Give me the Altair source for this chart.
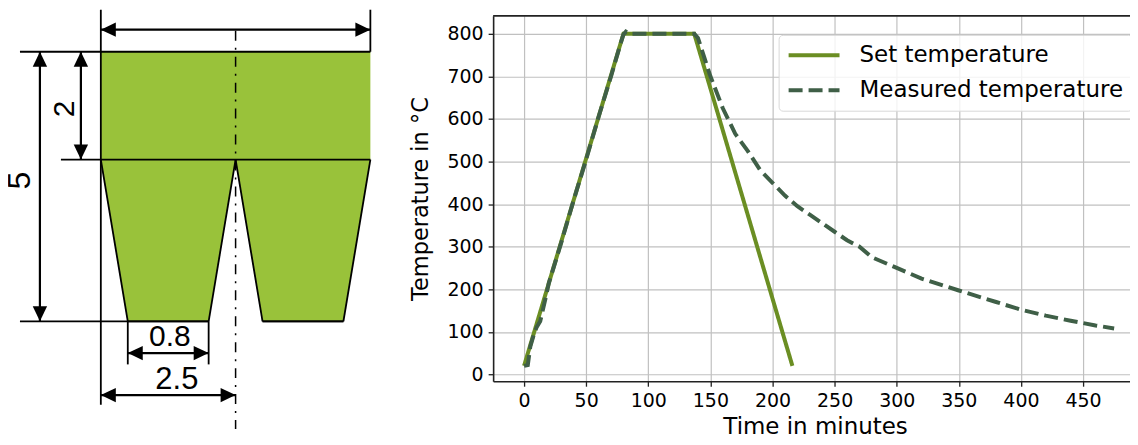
import altair as alt
import pandas as pd

# ---- drawing geometry, in drawing units (top-left of the profile is 0,0)
band_x1 = [0.0, 0.0]
band_x2 = [5.0, 5.0]
band_y = [0.0, 2.0]
left_x1 = [0.0, 0.5]
left_x2 = [2.5, 2.0]
right_x1 = [2.5, 3.0]
right_x2 = [5.0, 4.5]
wedge_y = [2.0, 5.0]

# outline and extension lines: x, y, x2, y2
seg_x = [-1.5, -0.74, -1.5, 0.0, 5.0, 0.0, 0.5, 2.0, 2.5, 3.0, 4.5, 0.5, 2.0, 3.0]
seg_y = [0.0, 2.0, 5.0, -0.78, -0.78, 2.0, 5.0, 5.0, 2.0, 5.0, 5.0, 5.0, 5.0, 5.0]
seg_x2 = [5.0, 5.0, 2.0, 0.0, 5.0, 0.5, 2.0, 2.5, 3.0, 4.5, 5.0, 0.5, 2.0, 4.5]
seg_y2 = [0.0, 2.0, 5.0, 6.55, 0.0, 5.0, 5.0, 2.0, 5.0, 5.0, 2.0, 5.8, 5.8, 5.0]

# dimension lines: x, y, x2, y2
dim_x = [0.0, -1.13, -0.37, 0.5, 0.0]
dim_y = [-0.41, 0.0, 0.0, 5.59, 6.37]
dim_x2 = [5.0, -1.13, -0.37, 2.0, 2.5]
dim_y2 = [-0.41, 5.0, 2.0, 5.59, 6.37]

# arrow tips
tip_left_x = [0.0, 0.5, 0.0]
tip_left_y = [-0.41, 5.59, 6.37]
tip_right_x = [5.0, 2.0, 2.5]
tip_right_y = [-0.41, 5.59, 6.37]
tip_up_x = [-1.13, -0.37]
tip_up_y = [0.0, 0.0]
tip_down_x = [-1.13, -0.37]
tip_down_y = [5.0, 2.0]

# centre line
centre_x = [2.5, 2.5]
centre_y = [-0.39, 7.0]

# dimension texts
label_text = ["0.8", "2.5"]
label_x = [1.28, 1.41]
label_y = [5.30, 6.09]
label_size = [30, 31]
vlabel_text = ["5", "2"]
vlabel_x = [-1.5, -0.667]
vlabel_y = [2.39, 1.06]
vlabel_size = [32, 30]

# ---- temperature curves
set_t = [0, 80, 137, 216]
set_v = [20, 800, 800, 20]
meas_t = [0, 3, 5, 8, 10, 13, 17, 20, 30, 40, 50, 60, 70, 78, 80, 82, 85, 100, 120, 137,
          140, 145, 150, 160, 170, 180, 190, 200, 210, 220, 230, 240, 250, 260, 270, 280,
          300, 320, 350, 380, 400, 420, 440, 460, 475]
meas_v = [20, 22, 65, 95, 110, 125, 175, 215, 310, 410, 505, 605, 700, 780, 798, 805, 800,
          800, 800, 800, 790, 745, 700, 625, 565, 525, 480, 450, 420, 395, 375, 355, 335,
          315, 300, 275, 250, 225, 197, 170, 152, 138, 126, 115, 108]
series_names = ["Set temperature", "Measured temperature"]
x_ticks = [0, 50, 100, 150, 200, 250, 300, 350, 400, 450]
y_ticks = [0, 100, 200, 300, 400, 500, 600, 700, 800]
x_limits = [-24.9, 493.4]
y_limits = [-16, 842]

GREEN = "#99c23a"
xs = alt.Scale(domain=[-1.722, 5.685], nice=False, zero=False)
ys = alt.Scale(domain=[-0.666, 6.112], nice=False, zero=False, reverse=True)
X = lambda f="x": alt.X(f"{f}:Q", scale=xs, axis=None)
Y = lambda f="y": alt.Y(f"{f}:Q", scale=ys, axis=None)


def area(x1, x2, y):
    d = pd.DataFrame({"x": x1, "x2": x2, "y": y})
    return alt.Chart(d).mark_area(color=GREEN, orient="horizontal", clip=False).encode(
        x=X(), x2="x2:Q", y=Y())


def rules(x, y, x2, y2, width):
    d = pd.DataFrame({"x": x, "y": y, "x2": x2, "y2": y2})
    return alt.Chart(d).mark_rule(color="black", strokeWidth=width).encode(
        x=X(), y=Y(), x2="x2:Q", y2="y2:Q")


def heads(x, y, path):
    d = pd.DataFrame({"x": x, "y": y})
    return alt.Chart(d).mark_point(shape=path, filled=True, color="black", opacity=1,
                                   size=225, strokeWidth=0).encode(x=X(), y=Y())


centre = alt.Chart(pd.DataFrame({"x": centre_x, "y": centre_y})).mark_line(
    color="black", strokeWidth=1.5, strokeDash=[10, 7, 2, 7]).encode(x=X(), y=Y())

labels = alt.Chart(pd.DataFrame({"x": label_x, "y": label_y, "t": label_text, "s": label_size})
                   ).mark_text(font="Liberation Sans", color="black").encode(
    x=X(), y=Y(), text="t:N",
    size=alt.Size("s:Q", scale=None, legend=None))
vlabels = alt.Chart(pd.DataFrame({"x": vlabel_x, "y": vlabel_y, "t": vlabel_text, "s": vlabel_size})
                    ).mark_text(font="Liberation Sans", angle=270, color="black").encode(
    x=X(), y=Y(), text="t:N",
    size=alt.Size("s:Q", scale=None, legend=None))

left = alt.layer(
    area(band_x1, band_x2, band_y),
    area(left_x1, left_x2, wedge_y),
    area(right_x1, right_x2, wedge_y),
    rules(seg_x, seg_y, seg_x2, seg_y2, 1.8),
    rules(dim_x, dim_y, dim_x2, dim_y2, 2.2),
    centre,
    heads(tip_left_x, tip_left_y, "M0,0L2,-0.96L2,0.96Z"),
    heads(tip_right_x, tip_right_y, "M0,0L-2,-0.96L-2,0.96Z"),
    heads(tip_up_x, tip_up_y, "M0,0L-0.96,2L0.96,2Z"),
    heads(tip_down_x, tip_down_y, "M0,0L-0.96,-2L0.96,-2Z"),
    labels,
    vlabels,
).properties(width=400, height=366, view=alt.ViewBackground(stroke="transparent"))

temps = pd.concat([
    pd.DataFrame({"t": set_t, "v": set_v, "series": series_names[0]}),
    pd.DataFrame({"t": meas_t, "v": meas_v, "series": series_names[1]}),
])

txs = alt.Scale(domain=x_limits, nice=False, zero=False)
tys = alt.Scale(domain=y_limits, nice=False, zero=False)

curves = alt.Chart(temps).mark_line(strokeWidth=4, clip=True).encode(
    x=alt.X("t:Q", title="Time in minutes", scale=txs,
            axis=alt.Axis(values=x_ticks, labelFontSize=19, titleFontSize=23, labelFont="DejaVu Sans",
                          titleFont="DejaVu Sans", titleFontWeight="normal", labelColor="black",
                          titleColor="black", tickColor="#222", tickSize=5, tickWidth=1.3,
                          domainColor="#222", domainWidth=1.6, gridColor="#c0c0c0", gridWidth=1.2,
                          labelPadding=5, titlePadding=5, labelFlush=False, labelOverlap=False)),
    y=alt.Y("v:Q", title="Temperature in °C", scale=tys,
            axis=alt.Axis(values=y_ticks, labelFontSize=19, titleFontSize=22.5, labelFont="DejaVu Sans",
                          titleFont="DejaVu Sans", titleFontWeight="normal", labelColor="black",
                          titleColor="black", tickColor="#222", tickSize=5, tickWidth=1.3,
                          domainColor="#222", domainWidth=1.6, gridColor="#c0c0c0", gridWidth=1.2,
                          labelPadding=5, titlePadding=14.5, labelOverlap=False)),
    color=alt.Color("series:N", sort=series_names,
                    scale=alt.Scale(domain=series_names, range=["#6b8e23", "#3f5f47"]),
                    legend=alt.Legend(title=None, orient="none", legendX=772, legendY=19,
                                      symbolType="stroke", symbolSize=2600, symbolStrokeWidth=4,
                                      labelFontSize=23, labelFont="DejaVu Sans", labelColor="black",
                                      labelLimit=400, labelOffset=18, rowPadding=10, clipHeight=25,
                                      padding=8, cornerRadius=4, strokeColor="#d8d8d8",
                                      fillColor="rgba(255,255,255,0.8)")),
    strokeDash=alt.StrokeDash("series:N", sort=series_names,
                              scale=alt.Scale(domain=series_names, range=[[1, 0], [14, 6]]),
                              legend=None),
    order=alt.Order("series:N", sort="descending"),
)

top_spine = alt.Chart(pd.DataFrame({"a": [x_limits[0]], "b": [x_limits[1]], "c": [y_limits[1]]})
                      ).mark_rule(color="#222", strokeWidth=1.6).encode(
    x=alt.X("a:Q", scale=txs), x2="b:Q", y=alt.Y("c:Q", scale=tys))

right = alt.layer(curves, top_spine).properties(
    width=645, height=366, view=alt.ViewBackground(stroke="transparent"))

chart = alt.hconcat(left, right, spacing=0).properties(
    padding={"left": -5, "top": -0.5, "right": -9, "bottom": -5}
).configure_axis(grid=True)

chart.save("out.html", embed_options={"renderer": "svg", "actions": False})
